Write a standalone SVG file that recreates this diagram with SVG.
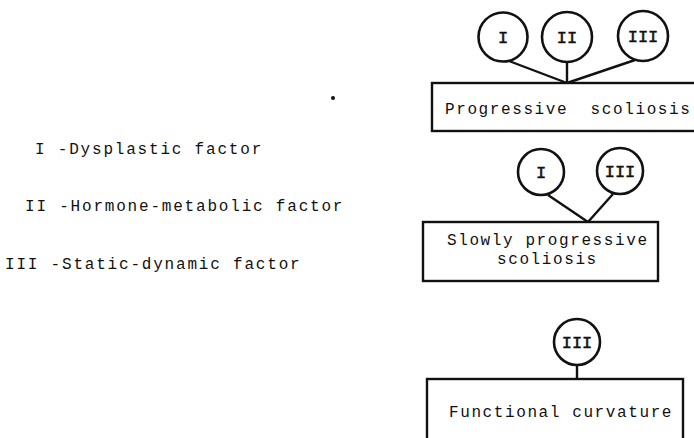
<svg xmlns="http://www.w3.org/2000/svg" width="694" height="438" viewBox="0 0 694 438">
<style>
.t{font-family:"Liberation Mono","DejaVu Sans Mono",monospace;font-size:16px;fill:#111;letter-spacing:1.6px;white-space:pre}
.g{letter-spacing:1.8px}
.c{fill:#fff;stroke:#111;stroke-width:2.6}
.b{fill:#fff;stroke:#111;stroke-width:2.4}
.l{stroke:#111;stroke-width:2.4;fill:none}
.n{font-family:"Liberation Mono","DejaVu Sans Mono",monospace;font-size:17px;fill:#111;stroke:#111;stroke-width:0.5;text-anchor:middle}
</style>
<rect width="694" height="438" fill="#fff"/>
<g id="legend">
<text class="t g" x="35" y="154">I -Dysplastic factor</text>
<text class="t g" x="25" y="211">II -Hormone-metabolic factor</text>
<text class="t g" x="5" y="269">III -Static-dynamic factor</text>
</g>
<circle cx="333" cy="98" r="2" fill="#111"/>
<g id="connectors">
<line class="l" x1="509" y1="61" x2="567" y2="83"/>
<line class="l" x1="567" y1="62" x2="567" y2="83"/>
<line class="l" x1="635" y1="60" x2="567" y2="83"/>
<line class="l" x1="548" y1="195" x2="588" y2="222"/>
<line class="l" x1="613" y1="194" x2="588" y2="222"/>
<line class="l" x1="577" y1="365" x2="577" y2="379"/>
</g>
<g id="box-progressive">
<rect class="b" x="432" y="83" width="270" height="48"/>
<text class="t" x="445" y="114">Progressive  scoliosis</text>
</g>
<g id="c1-I"><circle class="c" cx="503" cy="37" r="24.5"/><text class="n" x="503" y="43">I</text></g>
<g id="c1-II"><circle class="c" cx="567" cy="37" r="25"/><text class="n" x="567" y="43">II</text></g>
<g id="c1-III"><circle class="c" cx="643" cy="36" r="25"/><text class="n" x="643" y="42">III</text></g>
<g id="box-slowly">
<rect class="b" x="423" y="222" width="235" height="59"/>
<text class="t" x="447" y="245">Slowly progressive</text>
<text class="t" x="497" y="264">scoliosis</text>
</g>
<g id="c2-I"><circle class="c" cx="541" cy="172" r="23"/><text class="n" x="541" y="178">I</text></g>
<g id="c2-III"><circle class="c" cx="620" cy="171" r="23"/><text class="n" x="620" y="177">III</text></g>
<g id="box-functional">
<rect class="b" x="427" y="379" width="256" height="70"/>
<text class="t" x="449" y="417">Functional curvature</text>
</g>
<g id="c3-III"><circle class="c" cx="577" cy="342" r="23"/><text class="n" x="577" y="348">III</text></g>
</svg>
